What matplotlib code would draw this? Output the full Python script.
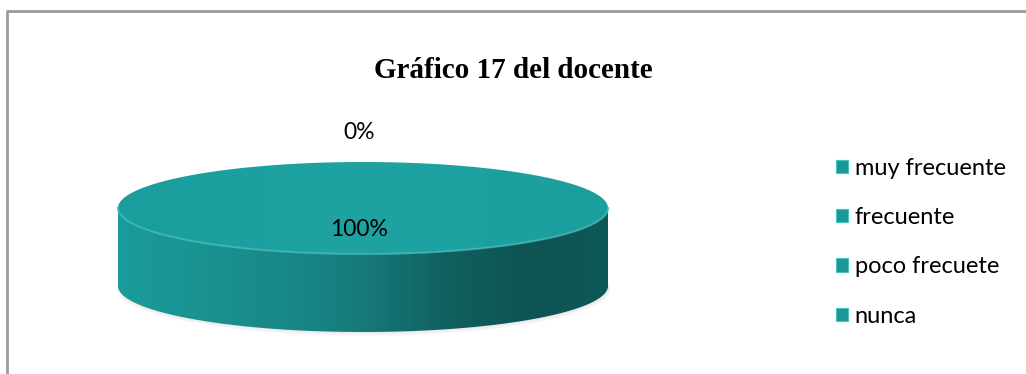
import numpy as np
import matplotlib.pyplot as plt
from matplotlib.patches import Polygon, Patch
from matplotlib.colors import LinearSegmentedColormap

# survey answers, teacher question 17
categories = ["muy frecuente", "frecuente", "poco frecuete", "nunca"]
values = [100, 0, 0, 0]
title = "Gráfico 17 del docente"

W, H = 1026, 374
fig = plt.figure(figsize=(W / 100, H / 100), dpi=100)
ax = fig.add_axes([0, 0, 1, 1])
ax.set_xlim(0, W)
ax.set_ylim(H, 0)
ax.axis("off")

# chart frame (open on the right and bottom)
ax.plot([6.5, 6.5, W], [H, 10.5, 10.5], color="#9a9a9a", lw=2, solid_capstyle="butt")

ax.text(513, 70, title, ha="center", va="center", fontsize=21, fontweight="bold",
        family="Liberation Serif")

# disk geometry
cx, cy = 363, 208
rx, ry = 245, 46
depth = 78


def ellipse_pts(a0, a1, n=200):
    t = np.radians(np.linspace(a0, a1, n))
    return cx + rx * np.cos(t), cy - ry * np.sin(t)


grad = np.linspace(0, 1, 256).reshape(1, -1)

# soft grey shadow under the disk
xs, ys = ellipse_pts(0, 360)
for k in range(4):
    ax.fill(xs * (1 + 0.002 * k) - cx * 0.002 * k + 1, ys + depth + 1 + k,
            color="#9a9a9a", alpha=0.05, lw=0, zorder=1)

# side of the disk: front half, with a horizontal shading ramp
xs, ys = ellipse_pts(180, 360)
side = np.column_stack([np.r_[xs, xs[::-1]], np.r_[ys, ys[::-1] + depth]])
side_patch = Polygon(side, closed=True, facecolor="none", edgecolor="none")
ax.add_patch(side_patch)
side_cmap = LinearSegmentedColormap.from_list(
    "side", ["#1c9b9b", "#1a9292", "#198888", "#177a7a", "#116060", "#0e5454", "#0f5858"])
img = ax.imshow(grad, cmap=side_cmap, aspect="auto",
                extent=(cx - rx, cx + rx, cy + depth + ry, cy), zorder=2)
img.set_clip_path(side_patch)

# top faces, one per slice, starting at 12 o'clock going clockwise
total = float(sum(values))
top_cmap = LinearSegmentedColormap.from_list("top", ["#1a9d9d", "#1fa2a2", "#1a9e9e"])
start = 90.0
drawn = set()
for cat, v in zip(categories, values):
    frac = v / total
    sweep = 360 * frac
    mid = start - sweep / 2
    if frac > 0:
        xs, ys = ellipse_pts(start - sweep, start)
        if frac < 1:
            xs, ys = np.r_[cx, xs, cx], np.r_[cy, ys, cy]
        top = Polygon(np.column_stack([xs, ys]), closed=True, facecolor="none",
                      edgecolor="none", zorder=3)
        ax.add_patch(top)
        timg = ax.imshow(grad, cmap=top_cmap, aspect="auto",
                         extent=(cx - rx, cx + rx, cy + ry, cy - ry), zorder=3)
        timg.set_clip_path(top)
    if frac >= 1:
        lx, ly = cx - 4, cy + 21
    else:
        # outside labels sit beyond the rim along the slice's mid angle
        lx = cx + 0.01 * rx * np.cos(np.radians(mid)) - 4
        ly = cy - 1.65 * ry * np.sin(np.radians(mid))
    key = (round(lx), round(ly))
    if key not in drawn:
        ax.text(lx, ly, f"{frac:.0%}", ha="center", va="center", fontsize=16.5,
                family="Lato", color="black", zorder=5)
        drawn.add(key)
    start -= sweep

# light rim along the front edge of the top face
xs, ys = ellipse_pts(180, 360)
ax.plot(xs, ys, color="#40b8b6", lw=1.5, alpha=0.8, zorder=4)

handles = [Patch(facecolor="#1a9797", edgecolor="#45c4c2", lw=0.8, label=c)
           for c in categories]
fig.legend(handles=handles, loc="upper left", bbox_to_anchor=(824 / W, 1 - 146 / H),
           frameon=False, prop={"family": "Lato", "size": 17},
           handlelength=0.5, handleheight=0.5, handletextpad=0.3,
           labelspacing=1.2, borderpad=0)

fig.savefig("out.png", dpi=100)
